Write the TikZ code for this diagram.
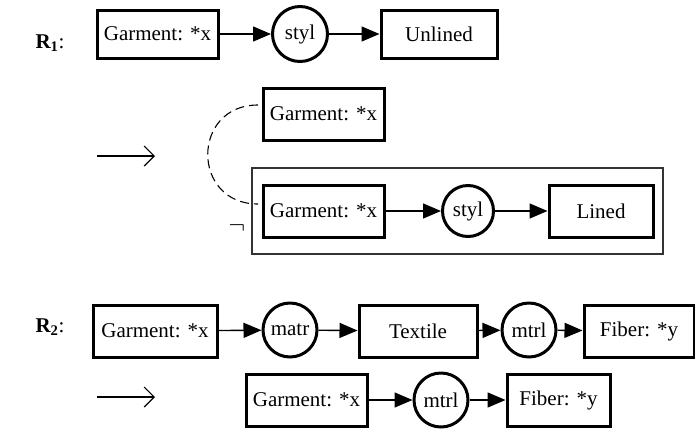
\documentclass[tikz,border=0pt]{standalone}
\usepackage{fontspec}
\setmainfont{Liberation Serif}
\usetikzlibrary{arrows.meta}
\begin{document}
\begin{tikzpicture}[x=1pt,y=-1pt,
  every node/.style={font=\fontsize{21}{24}\selectfont, inner sep=0pt},
  concept/.style={draw, line width=3pt, minimum height=50pt},
  rel/.style={draw, circle, line width=3pt, minimum size=54pt},
  link/.style={line width=1.4pt, -{Triangle[length=18pt,width=15pt]}},
  yields/.style={line width=1.2pt, -{Straight Barb[length=10pt,width=20pt]}},
  lbl/.style={font=\fontsize{21}{24}\selectfont\bfseries},
  frame/.style={draw=black!80, line width=1.3pt},
  coref/.style={line width=1.1pt, dash pattern=on 9pt off 5pt}]
\path[use as bounding box] (0,0) rectangle (695,437);

% ---- rule R1: left-hand side
\node[lbl] (r1) at (50,43) {R\textsubscript{1}\textmd{:}};
\node[concept, minimum width=121pt, minimum height=48pt] (ga) at (157.5,34) {Garment: *x};
\node[rel, minimum size=55pt] (sa) at (300,34) {styl};
\node[concept, minimum width=116pt, minimum height=48pt] (un) at (439,34) {Unlined};
\draw[link] (ga) -- (sa);
\draw[link] (sa) -- (un);

% ---- rule R1: right-hand side
\coordinate (t1s) at (97,156);
\coordinate (t1e) at (155,156);
\draw[yields] (t1s) -- (t1e);

\node[concept, minimum width=121pt, minimum height=52pt] (gb) at (323.5,114) {Garment: *x};
\node[frame, minimum width=411pt, minimum height=86pt] (ctx) at (457.5,211) {};
\node[concept, minimum width=121pt, minimum height=52pt] (gc) at (323.5,211) {Garment: *x};
\node[rel, minimum size=51pt] (sb) at (468,211) {styl};
\node[concept, minimum width=104pt, minimum height=52pt] (ln) at (601,211) {Lined};
\draw[link] (gc) -- (sb);
\draw[link] (sb) -- (ln);

% coreference line between the two garments
\coordinate (c1) at (258,105);
\coordinate (c2) at (258,204);
\draw[coref] (c1) .. controls (191,105) and (191,204) .. (c2);
\node[font=\fontsize{26}{28}\selectfont] (neg) at (237,228) {$\neg$};

% ---- rule R2: left-hand side
\node[lbl] (r2) at (50,327) {R\textsubscript{2}\textmd{:}};
\node[concept, minimum width=124pt, minimum height=52pt] (gd) at (155,331) {Garment: *x};
\node[rel] (ma) at (290,330) {matr};
\node[concept, minimum width=118pt, minimum height=52pt] (tx) at (418,331) {Textile};
\node[rel] (mt) at (529,330) {mtrl};
\node[concept, minimum width=110pt, minimum height=52pt] (fa) at (639,331) {Fiber: *y};
\draw[link] (gd) -- (ma);
\draw[link] (ma) -- (tx);
\draw[link] (tx) -- (mt);
\draw[link] (mt) -- (fa);

% ---- rule R2: right-hand side
\coordinate (t2s) at (97,397);
\coordinate (t2e) at (155,397);
\draw[yields] (t2s) -- (t2e);
\node[concept, minimum width=121pt, minimum height=52pt] (ge) at (306.5,400) {Garment: *x};
\node[rel] (mu) at (441,400) {mtrl};
\node[concept, minimum width=103pt, minimum height=52pt] (fb) at (558.5,400) {Fiber: *y};
\draw[link] (ge) -- (mu);
\draw[link] (mu) -- (fb);
\end{tikzpicture}
\end{document}
